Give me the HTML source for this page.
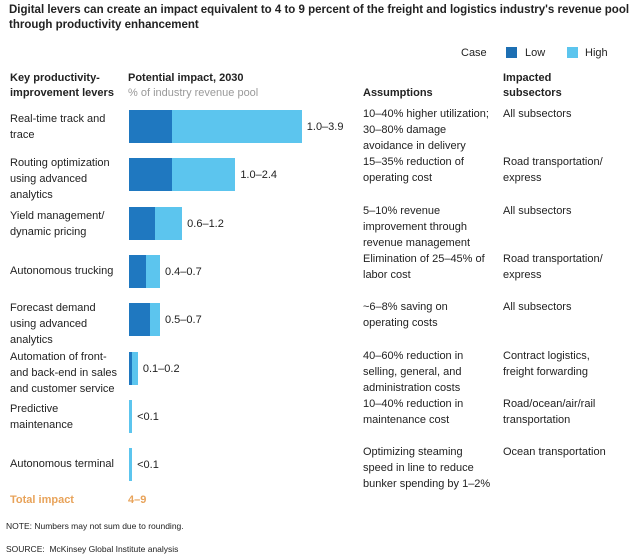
<!DOCTYPE html>
<html><head><meta charset="utf-8"><style>
body{margin:0;background:#fff;font-family:"Liberation Sans",Arial,sans-serif;color:#222}
#root{position:relative;width:640px;height:558px;overflow:hidden}
.t{position:absolute;font-size:11px;line-height:16px;white-space:nowrap}
.b{font-weight:bold}
</style></head><body>
<div id="root">
<div class="t b" style="left:9px;top:3px;font-size:11.5px;line-height:15px">Digital levers can create an impact equivalent to 4 to 9 percent of the freight and logistics industry's revenue pool<br>through productivity enhancement</div>
<div class="t" style="left:461px;top:45px">Case</div>
<div style="position:absolute;left:506px;top:47px;width:11px;height:11px;background:#1d6fb3"></div>
<div class="t" style="left:525px;top:45px">Low</div>
<div style="position:absolute;left:567px;top:47px;width:11px;height:11px;background:#5cc5ee"></div>
<div class="t" style="left:585px;top:45px">High</div>
<div class="t b" style="left:10px;top:71px;line-height:15px">Key productivity-<br>improvement levers</div>
<div class="t b" style="left:128px;top:71px;line-height:15px">Potential impact, 2030</div>
<div class="t" style="left:128px;top:86px;line-height:15px;color:#999">% of industry revenue pool</div>
<div class="t b" style="left:363px;top:86px;line-height:15px">Assumptions</div>
<div class="t b" style="left:503px;top:71px;line-height:15px">Impacted<br>subsectors</div>
<div id="rows"></div>
<div class="t b" style="left:10px;top:492px;color:#e8a35a">Total impact</div>
<div class="t b" style="left:128px;top:492px;color:#e8a35a">4–9</div>
<div class="t" style="left:6px;top:518px;font-size:8.5px">NOTE: Numbers may not sum due to rounding.</div>
<div class="t" style="left:6px;top:541px;font-size:8.5px">SOURCE:&nbsp; McKinsey Global Institute analysis</div>
</div>
<script>
const levers=["Real-time track and<br>trace","Routing optimization<br>using advanced<br>analytics","Yield management/<br>dynamic pricing","Autonomous trucking","Forecast demand<br>using advanced<br>analytics","Automation of front-<br>and back-end in sales<br>and customer service","Predictive<br>maintenance","Autonomous terminal"];
const lowValues=[1.0,1.0,0.6,0.4,0.5,0.1,0,0];
const highValues=[3.9,2.4,1.2,0.7,0.7,0.2,0.07,0.07];
const valueLabels=["1.0–3.9","1.0–2.4","0.6–1.2","0.4–0.7","0.5–0.7","0.1–0.2","<0.1","<0.1"];
const assumptions=["10–40% higher utilization;<br>30–80% damage<br>avoidance in delivery","15–35% reduction of<br>operating cost","5–10% revenue<br>improvement through<br>revenue management","Elimination of 25–45% of<br>labor cost","~6–8% saving on<br>operating costs","40–60% reduction in<br>selling, general, and<br>administration costs","10–40% reduction in<br>maintenance cost","Optimizing steaming<br>speed in line to reduce<br>bunker spending by 1–2%"];
const subsectors=["All subsectors","Road transportation/<br>express","All subsectors","Road transportation/<br>express","All subsectors","Contract logistics,<br>freight forwarding","Road/ocean/air/rail<br>transportation","Ocean transportation"];
const x0=129,scale=44.3,rowTop=110,rowStep=48.3,barH=33;
const xs=v=>x0+v*scale;
const rows=document.getElementById('rows');
function add(html,style,name){const d=document.createElement('div');d.className='t';d.innerHTML=html;d.style.cssText=style;


rows.appendChild(d);return d;}
function box(l,t,w,h,c,name){const d=document.createElement('div');d.style.cssText=`position:absolute;left:${l}px;top:${t}px;width:${w}px;height:${h}px;background:${c}`;


rows.appendChild(d);}
levers.forEach((lv,i)=>{
 const y=rowTop+i*rowStep;
 const lines=lv.split('<br>').length;
 const ly=lines===1?y+8:(lines===2?y+1:y-3);
 add(lv,`left:10px;top:${ly}px`,'lever-label-'+i);
 const hiEnd=Math.max(xs(highValues[i]),x0+3);
 box(x0,y,hiEnd-x0,barH,'#5cc5ee','bar-high-'+i);
 if(lowValues[i]>0)box(x0,y,xs(lowValues[i])-x0-1,barH,'#1f78c0','bar-low-'+i);
 add(valueLabels[i],`left:${hiEnd+5}px;top:${y+9}px`,'value-label-'+i);
 add(assumptions[i],`left:363px;top:${y-4}px;line-height:16px`,'assumption-'+i);
 add(subsectors[i],`left:503px;top:${y-4}px;line-height:16px`,'subsector-'+i);
});
</script>
</body></html>
